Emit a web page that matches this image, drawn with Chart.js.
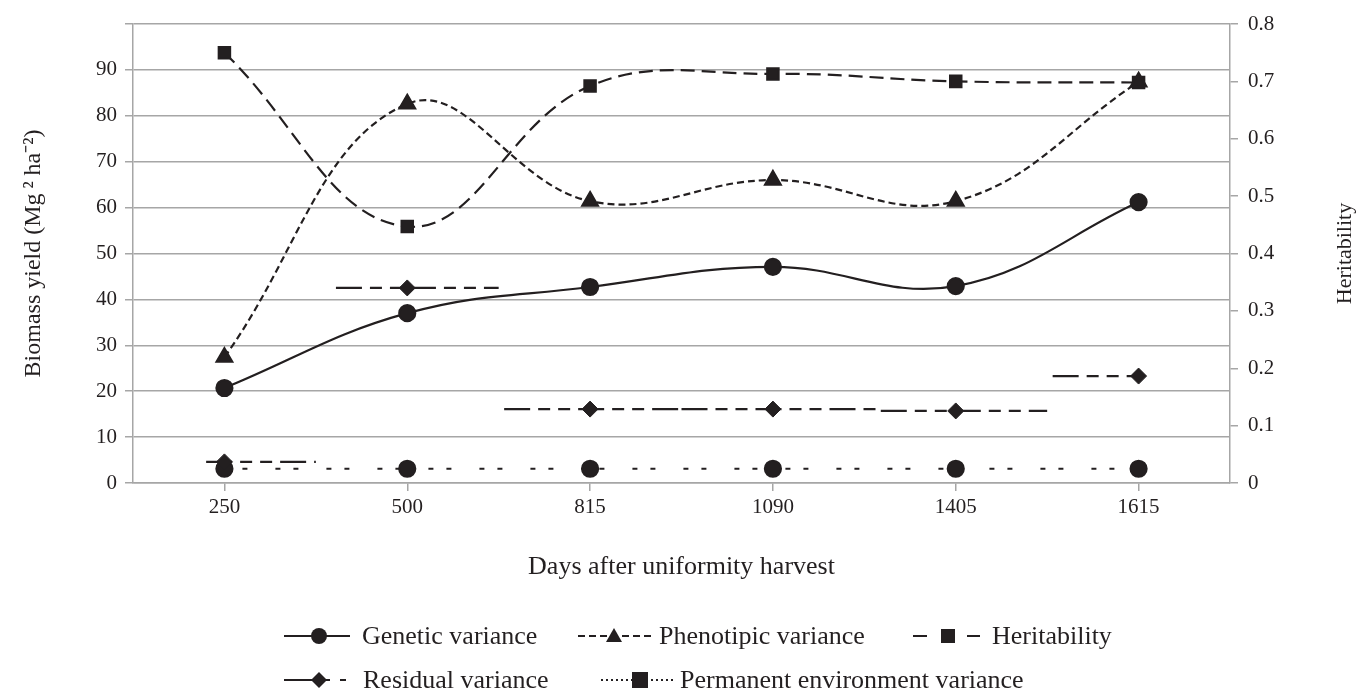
<!DOCTYPE html>
<html>
<head>
<meta charset="utf-8">
<script src="https://cdn.jsdelivr.net/npm/chart.js@4"></script>
<style>
  html, body { margin: 0; padding: 0; background: #fff; }
  #wrap { width: 1371px; height: 696px; position: relative; }
</style>
</head>
<body>
<div id="wrap"><canvas id="varChart"></canvas></div>
<script>
const days = ['250', '500', '815', '1090', '1405', '1615'];
const geneticVar = [20.7, 37.0, 42.7, 47.1, 42.9, 61.2];
const phenotypicVar = [27.4, 82.6, 61.4, 66.0, 61.4, 87.4];
const heritability = [0.750, 0.447, 0.692, 0.713, 0.700, 0.698];
const residualVar = [4.6, 42.5, 16.1, 16.1, 15.7, 23.3];
const permanentVar = [3.1, 3.1, 3.1, 3.1, 3.1, 3.1];
// horizontal extent of each residual dash run, in category units around its point
const residualFrom = [-0.1, -0.39, -0.47, -0.5, -0.41, -0.47];
const residualTo = [0.5, 0.5, 0.5, 0.59, 0.5, 0];

const ink = '#231f20';
const gridGray = '#a6a6a6';
const font = 'Liberation Serif, Times New Roman, serif';

const residualDash = [26, 8, 12, 8, 12, 8];
const permanentDash = [5, 13, 5, 28];

// residual variance shows as horizontal dashed runs through each point
const residualRuns = {
  id: 'residualRuns',
  beforeDatasetsDraw(chart) {
    const { ctx, scales: { x, y } } = chart;
    ctx.save();
    ctx.strokeStyle = ink;
    ctx.lineWidth = 2.2;
    ctx.setLineDash(residualDash);
    residualVar.forEach((v, i) => {
      const py = y.getPixelForValue(v);
      ctx.beginPath();
      ctx.moveTo(x.getPixelForValue(i + residualFrom[i]), py);
      ctx.lineTo(x.getPixelForValue(i + residualTo[i]), py);
      ctx.stroke();
    });
    ctx.restore();
  }
};

function marker(ctx, style, r, cx, cy) {
  ctx.fillStyle = ink;
  ctx.beginPath();
  if (style === 'circle') ctx.arc(cx, cy, r, 0, Math.PI * 2);
  else if (style === 'triangle') { ctx.moveTo(cx, cy - r); ctx.lineTo(cx + r, cy + r * 0.75); ctx.lineTo(cx - r, cy + r * 0.75); ctx.closePath(); }
  else if (style === 'rect') ctx.rect(cx - r, cy - r, 2 * r, 2 * r);
  else if (style === 'rectRot') { ctx.moveTo(cx, cy - r); ctx.lineTo(cx + r, cy); ctx.lineTo(cx, cy + r); ctx.lineTo(cx - r, cy); ctx.closePath(); }
  ctx.fill();
}

const legendItems = [
  { text: 'Genetic variance', x0: 284, x1: 350, mx: 319, y: 636, dash: [], style: 'circle', r: 8, tx: 362 },
  { text: 'Phenotipic variance', x0: 578, x1: 655, mx: 614, y: 636, dash: [7, 4], style: 'triangle', r: 8, tx: 659 },
  { text: 'Heritability', x0: 913, x1: 980, mx: 948, y: 636, dash: [14, 40, 13, 100], style: 'rect', r: 7, tx: 992 },
  { text: 'Residual variance', x0: 284, x1: 350, mx: 319, y: 680, dash: [46, 10, 6, 100], style: 'rectRot', r: 8, tx: 363 },
  { text: 'Permanent environment variance', x0: 601, x1: 675, mx: 640, y: 680, dash: [2, 3], style: 'rect', r: 8, tx: 680 }
];

const bottomLegend = {
  id: 'bottomLegend',
  afterDraw(chart) {
    const ctx = chart.ctx;
    ctx.save();
    legendItems.forEach(it => {
      ctx.strokeStyle = ink;
      ctx.lineWidth = 2.2;
      ctx.setLineDash(it.dash);
      ctx.beginPath();
      ctx.moveTo(it.x0, it.y);
      ctx.lineTo(it.x1, it.y);
      ctx.stroke();
      ctx.setLineDash([]);
      marker(ctx, it.style, it.r, it.mx, it.y);
      ctx.fillStyle = ink;
      ctx.font = '26px ' + font;
      ctx.textAlign = 'left';
      ctx.textBaseline = 'middle';
      ctx.fillText(it.text, it.tx, it.y + 1);
    });
    // right-hand axis title reads bottom to top, like the left one
    const y1 = chart.scales.y1;
    ctx.font = '22px ' + font;
    ctx.translate(1345, (y1.top + y1.bottom) / 2);
    ctx.rotate(-Math.PI / 2);
    ctx.textAlign = 'center';
    ctx.fillText('Heritability', 0, 0);
    ctx.restore();
  }
};

const ctx = document.getElementById('varChart').getContext('2d');
new Chart(ctx, {
  type: 'line',
  data: {
    labels: days,
    datasets: [
      {
        label: 'Genetic variance',
        data: geneticVar,
        yAxisID: 'y',
        borderColor: ink, backgroundColor: ink,
        borderWidth: 2.2, tension: 0.4,
        pointStyle: 'circle', pointRadius: 8
      },
      {
        label: 'Phenotipic variance',
        data: phenotypicVar,
        yAxisID: 'y',
        borderColor: ink, backgroundColor: ink,
        borderWidth: 2.2, borderDash: [7, 4], tension: 0.4,
        pointStyle: 'triangle', pointRadius: 9
      },
      {
        label: 'Heritability',
        data: heritability,
        yAxisID: 'y1',
        borderColor: ink, backgroundColor: ink,
        borderWidth: 2.2, borderDash: [14, 7], tension: 0.4,
        pointStyle: 'rect', pointRadius: 8
      },
      {
        label: 'Residual variance',
        data: residualVar,
        yAxisID: 'y',
        showLine: false,
        borderColor: ink, backgroundColor: ink,
        pointStyle: 'rectRot', pointRadius: 8
      },
      {
        label: 'Permanent environment variance',
        data: permanentVar,
        yAxisID: 'y',
        borderColor: ink, backgroundColor: ink,
        borderWidth: 2.2, borderDash: permanentDash, tension: 0,
        pointStyle: 'circle', pointRadius: 8
      }
    ]
  },
  options: {
    responsive: true,
    maintainAspectRatio: false,
    animation: false,
    events: [],
    layout: { padding: { top: 24, bottom: 110, left: 0, right: 0 } },
    plugins: { legend: { display: false }, tooltip: { enabled: false } },
    scales: {
      x: {
        offset: true,
        afterFit: s => { s.height = 103; },
        grid: { drawOnChartArea: false, color: gridGray, tickLength: 8, lineWidth: 1.5 },
        border: { color: gridGray, width: 1.5 },
        ticks: { color: ink, font: { family: font, size: 21 }, padding: 4 },
        title: { display: true, text: 'Days after uniformity harvest', color: ink, font: { family: font, size: 26 }, padding: { top: 4, bottom: 3 } }
      },
      y: {
        position: 'left',
        min: 0, max: 100,
        afterFit: s => { s.width = 133; },
        grid: { color: gridGray, lineWidth: 1.5, tickLength: 8 },
        border: { color: gridGray, width: 1.5 },
        ticks: { stepSize: 10, color: ink, font: { family: font, size: 21 }, padding: 8,
                 callback: v => v === 100 ? '' : v },
        title: { display: true, text: 'Biomass yield (Mg\u2009\u00B2 ha\u207B\u00B2)', color: ink, font: { family: font, size: 24 }, padding: { top: 19, bottom: 0 } }
      },
      y1: {
        position: 'right',
        min: 0, max: 0.8,
        afterFit: s => { s.width = 141; },
        grid: { drawOnChartArea: false, color: gridGray, lineWidth: 1.5, tickLength: 8 },
        border: { color: gridGray, width: 1.5 },
        ticks: { stepSize: 0.1, color: ink, font: { family: font, size: 21 }, padding: 10,
                 callback: v => v === 0 ? '0' : v.toFixed(1) },
        title: { display: false }
      }
    }
  },
  plugins: [residualRuns, bottomLegend]
});
</script>
</body>
</html>
